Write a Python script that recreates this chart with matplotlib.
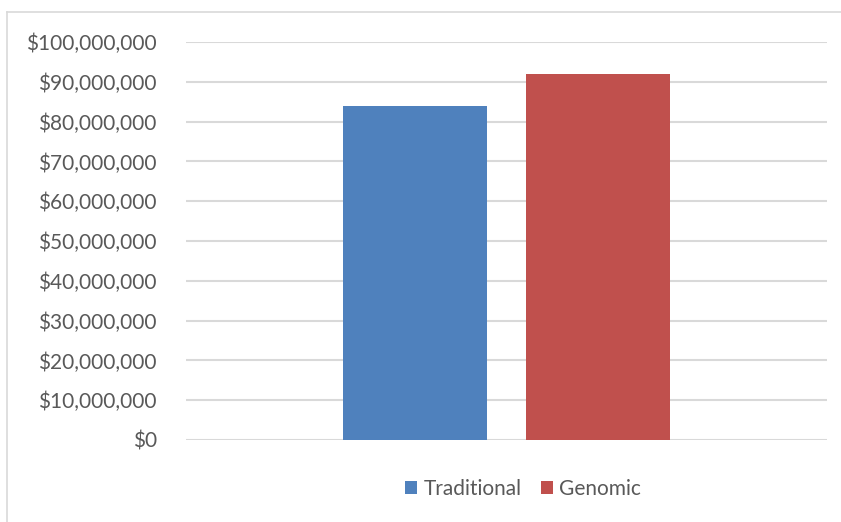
import matplotlib.pyplot as plt
from matplotlib.lines import Line2D
from matplotlib.ticker import FuncFormatter

series = ['Traditional', 'Genomic']
costs = [84_000_000, 92_000_000]
colors = ['#4F81BD', '#C0504D']

plt.rcParams['font.family'] = ['Lato', 'DejaVu Sans']
txt = '#595959'

fig = plt.figure(figsize=(8.41, 5.22), dpi=100)
ax = fig.add_axes([186 / 841, 1 - 440 / 522, 641 / 841, 398 / 522])

bar_w = 0.2246
gap = 0.0608
for i, (name, val) in enumerate(zip(series, costs)):
    off = (i - 0.5) * (bar_w + gap)
    ax.bar(off, val, width=bar_w, color=colors[i], label=name, zorder=3)

ax.set_xlim(-0.5, 0.5)
ax.set_ylim(0, 100_000_000)
ax.set_yticks(range(0, 100_000_001, 10_000_000))
ax.yaxis.set_major_formatter(FuncFormatter(lambda v, p: '${:,.0f}'.format(v)))
ax.set_xticks([])
ax.tick_params(axis='y', length=0, pad=21, labelsize=15, labelcolor=txt)
ax.grid(axis='y', color='#d9d9d9', linewidth=1.5, zorder=0)
for s in ax.spines.values():
    s.set_visible(False)

ax.legend(loc='center', bbox_to_anchor=(523 / 841, 1 - 489 / 522), bbox_transform=fig.transFigure,
          ncol=2, frameon=False, fontsize=15, labelcolor=txt, handlelength=0.6, handleheight=0.6,
          handletextpad=0.3, columnspacing=0.9)

# chart area outline (top and left edges only)
fig.add_artist(Line2D([7 / 841, 1], [1 - 12 / 522, 1 - 12 / 522], color='#d9d9d9', lw=1.2))
fig.add_artist(Line2D([7 / 841, 7 / 841], [0, 1 - 12 / 522], color='#d9d9d9', lw=1.2))

fig.savefig('out.png', dpi=100)
